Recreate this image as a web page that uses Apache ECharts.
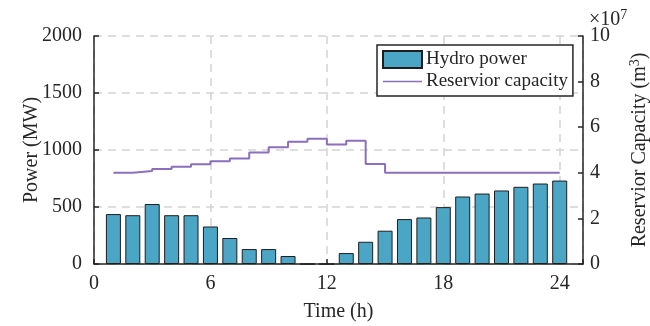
<!DOCTYPE html>
<html>
<head>
<meta charset="utf-8">
<script src="https://cdn.jsdelivr.net/npm/echarts@6/dist/echarts.min.js"></script>
<style>
  html, body { margin: 0; padding: 0; background: #fff; }
  #chart { width: 650px; height: 326px; }
</style>
</head>
<body>
<div id="chart"></div>
<script>
// 数据
const hours = [1, 2, 3, 4, 5, 6, 7, 8, 9, 10, 11, 12, 13, 14, 15, 16, 17, 18, 19, 20, 21, 22, 23, 24];
const hydroPower = [438, 428, 526, 428, 428, 329, 228, 131, 131, 70, 0, 0, 96, 195, 292, 394, 408, 499, 592, 618, 645, 677, 706, 732];
// 库容, 单位 1e7 m^3
const reservoir = [4.0, 4.08, 4.17, 4.27, 4.38, 4.51, 4.63, 4.89, 5.12, 5.36, 5.49, 5.24, 5.41, 4.39, 4.0, 4.0, 4.0, 4.0, 4.0, 4.0, 4.0, 4.0, 4.0, 4.0];
const timeRange = [0, 25.2, 6];
const powerTicks = [0, 2000, 500];
const capTicks = [0, 10, 2];

const font = 'Liberation Serif';
const ink = '#262626';

const chart = echarts.init(document.getElementById('chart'));

const gridDash = {
  show: true,
  lineStyle: { color: '#d4d4d4', width: 1.5, type: [8, 6] }
};
const supStyle = { fontFamily: font, fontSize: 14, color: ink, verticalAlign: 'top', padding: [0, 0, 10, 0] };

chart.setOption({
  animation: false,
  textStyle: { fontFamily: font, color: ink },
  title: {
    text: '×10{sup|7}',
    left: 584,
    top: 3,
    textStyle: {
      fontFamily: font,
      fontSize: 20,
      fontWeight: 'normal',
      color: ink,
      rich: { sup: supStyle }
    }
  },
  legend: {
    orient: 'vertical',
    left: 377,
    top: 45,
    padding: [5, 5, 5, 5],
    itemWidth: 39,
    itemHeight: 17,
    itemGap: 3,
    backgroundColor: '#fff',
    borderColor: ink,
    borderWidth: 1.5,
    textStyle: { fontFamily: font, fontSize: 19, color: ink, padding: [0, 0, 0, -1] },
    data: [
      { name: 'Hydro power', icon: 'rect' },
      { name: 'Reservior capacity', icon: 'path://M0,0L40,0L40,1.6L0,1.6Z' }
    ]
  },
  // 左轴线画在 x=92, 时间 0 落在 x=94
  grid: { left: 94, right: 67, top: 36, bottom: 62, outerBoundsMode: 'none' },
  xAxis: {
    type: 'value',
    min: timeRange[0],
    max: timeRange[1],
    interval: timeRange[2],
    name: 'Time (h)',
    nameLocation: 'middle',
    nameGap: 38,
    nameMoveOverlap: false,
    nameTextStyle: { fontFamily: font, fontSize: 20, color: ink },
    axisLine: { show: true, onZero: false, lineStyle: { color: ink, width: 1.5 } },
    axisTick: { show: true, inside: true, length: 5, lineStyle: { color: ink, width: 1.5 } },
    axisLabel: {
      fontFamily: font, fontSize: 20, color: ink, margin: 10,
      formatter: v => (v > 24 ? '' : String(v))
    },
    splitLine: gridDash
  },
  yAxis: [
    {
      type: 'value',
      offset: 2,
      min: powerTicks[0],
      max: powerTicks[1],
      interval: powerTicks[2],
      name: 'Power (MW)',
      nameLocation: 'middle',
      nameGap: 50,
      nameRotate: 90,
      nameMoveOverlap: false,
      nameTextStyle: { fontFamily: font, fontSize: 20, color: ink },
      axisLine: { show: true, lineStyle: { color: ink, width: 1.5 } },
      axisTick: { show: true, inside: true, length: 5, lineStyle: { color: ink, width: 1.5 } },
      axisLabel: { fontFamily: font, fontSize: 20, color: ink, margin: 10, formatter: v => String(v) },
      splitLine: gridDash
    },
    {
      type: 'value',
      position: 'right',
      min: capTicks[0],
      max: capTicks[1],
      interval: capTicks[2],
      name: 'Reservior Capacity (m{sup|3})',
      nameLocation: 'middle',
      nameGap: 45,
      nameRotate: 90,
      nameMoveOverlap: false,
      nameTextStyle: {
        fontFamily: font, fontSize: 20, color: ink,
        rich: { sup: supStyle }
      },
      axisLine: { show: true, lineStyle: { color: ink, width: 1.5 } },
      axisTick: { show: true, inside: true, length: 5, lineStyle: { color: ink, width: 1.5 } },
      axisLabel: { fontFamily: font, fontSize: 20, color: ink, margin: 7, formatter: v => String(v) },
      splitLine: { show: false }
    }
  ],
  series: [
    {
      name: 'Hydro power',
      type: 'bar',
      yAxisIndex: 0,
      barWidth: 15,
      itemStyle: { color: '#4ba6c6', borderColor: '#1e1e1e', borderWidth: 1 },
      data: hours.map((h, i) => [h, hydroPower[i]])
    },
    {
      name: 'Reservior capacity',
      type: 'line',
      yAxisIndex: 1,
      step: 'end',
      symbol: 'none',
      lineStyle: { color: '#8a6fbd', width: 2 },
      itemStyle: { color: '#8a6fbd' },
      z: 3,
      data: hours.map((h, i) => [h, reservoir[i]])
    }
  ]
});
</script>
</body>
</html>
